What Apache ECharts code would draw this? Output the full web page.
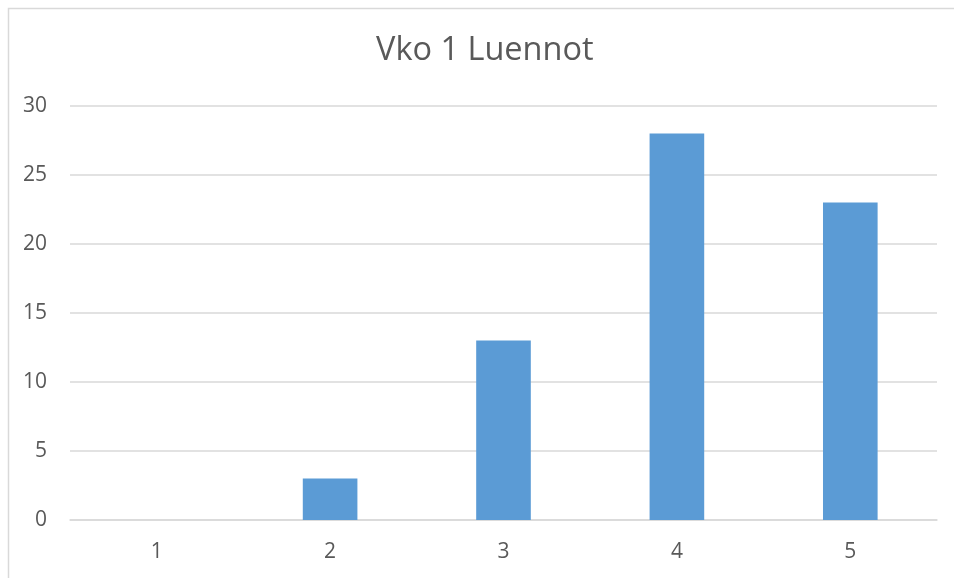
<!DOCTYPE html>
<html><head><meta charset="utf-8">
<script src="https://cdn.jsdelivr.net/npm/echarts@6/dist/echarts.min.js"></script>
<style>html,body{margin:0;padding:0;background:#fff}#c{width:954px;height:578px}</style>
</head><body><div id="c"></div>
<script>
const titleText = 'Vko 1 Luennot';
const categories = ['1', '2', '3', '4', '5'];
const values = [0, 3, 13, 28, 23];
const yTicks = { min: 0, max: 30, interval: 5 };

const chart = echarts.init(document.getElementById('c'), null, { renderer: 'canvas' });
chart.setOption({
  animation: false,
  backgroundColor: '#fff',
  graphic: [{
    type: 'rect', left: 6, top: 6, silent: true,
    shape: { x: 0, y: 0, width: 1200, height: 1200 },
    style: { fill: 'none', stroke: '#D9D9D9', lineWidth: 1.5 }
  }],
  title: {
    text: titleText, left: 376, top: 34, padding: 0,
    textStyle: { fontFamily: 'Open Sans', fontSize: 32.5, fontWeight: 'normal', color: '#595959' }
  },
  grid: { left: 70, right: 17, top: 106, bottom: 58, containLabel: false },
  xAxis: {
    type: 'category', data: categories,
    axisLine: { show: true, lineStyle: { color: '#D9D9D9', width: 1.5 } },
    axisTick: { show: false },
    axisLabel: { color: '#595959', fontFamily: 'Open Sans', fontSize: 21, margin: 22 }
  },
  yAxis: {
    type: 'value', min: yTicks.min, max: yTicks.max, interval: yTicks.interval,
    axisLine: { show: false }, axisTick: { show: false },
    splitLine: { lineStyle: { color: '#D9D9D9', width: 1.5 } },
    axisLabel: { color: '#595959', fontFamily: 'Open Sans', fontSize: 21, margin: 23 }
  },
  series: [{
    type: 'bar', data: values, barWidth: '31.5%',
    itemStyle: { color: '#5B9BD5' }
  }]
});
</script></body></html>
